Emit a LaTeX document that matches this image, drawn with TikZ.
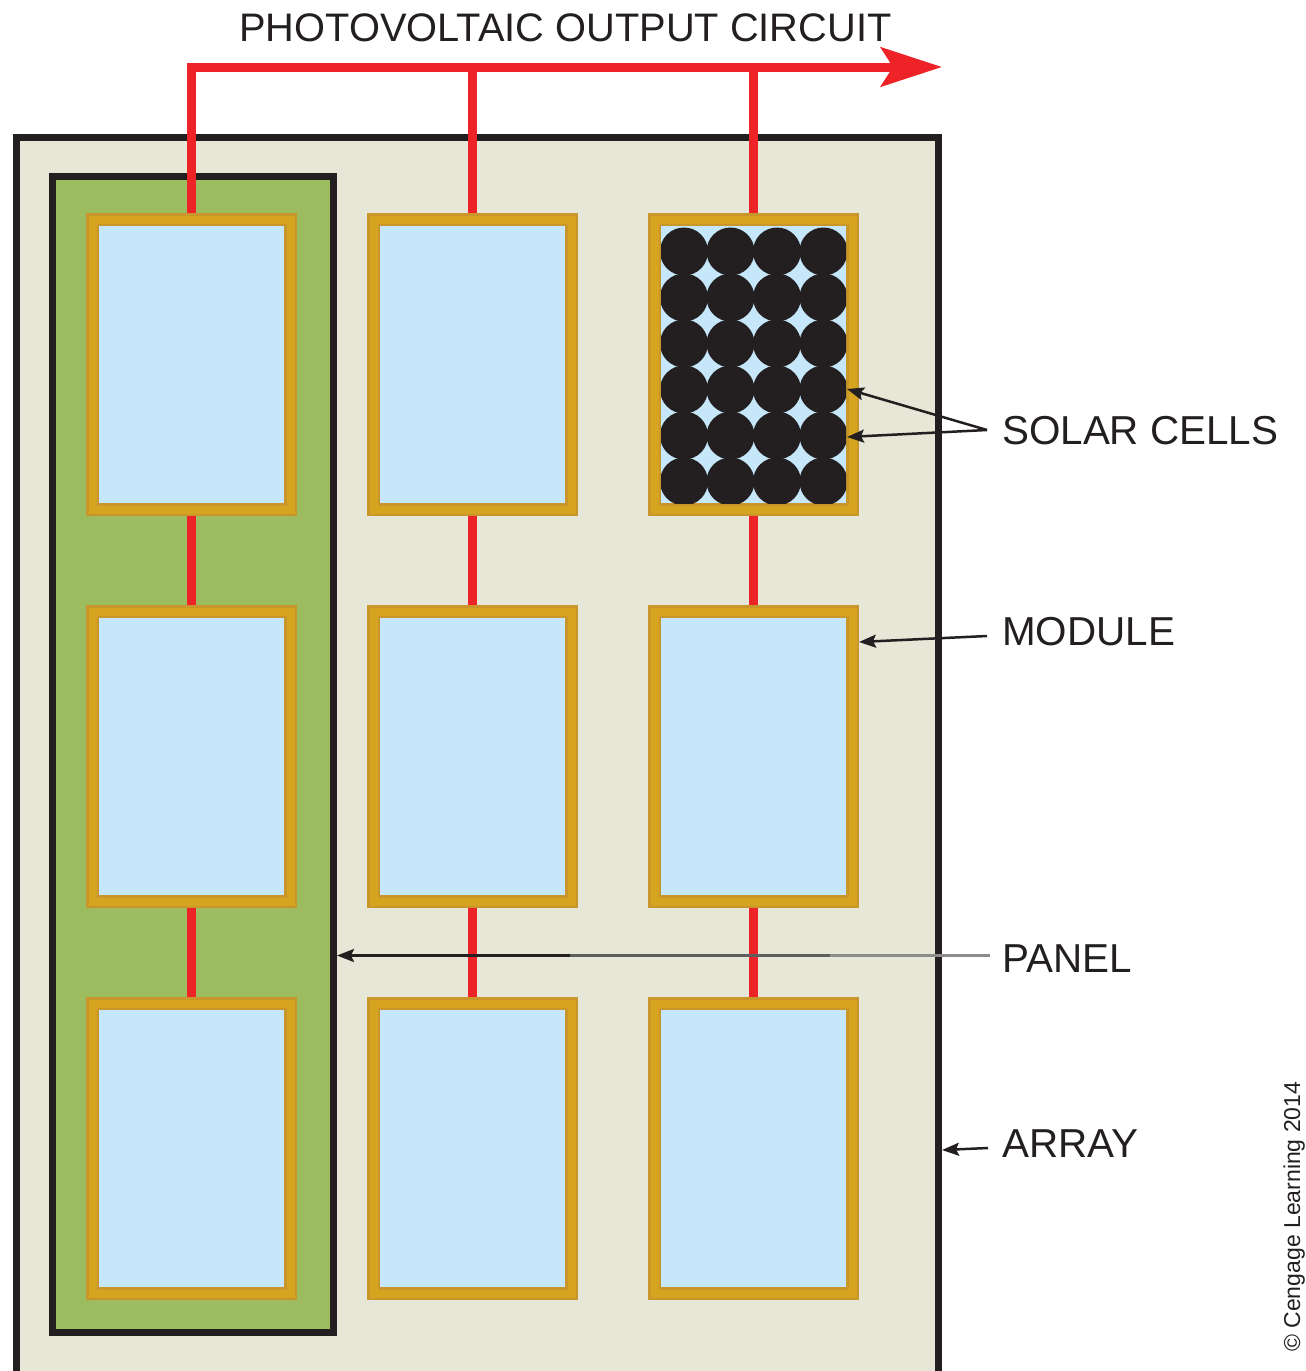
\documentclass[tikz,border=0pt]{standalone}
\usepackage{fontspec}
\setmainfont{Liberation Sans}
\usetikzlibrary{arrows.meta}
\definecolor{arraybg}{HTML}{E6E7D6}
\definecolor{panelgreen}{HTML}{9DBB5F}
\definecolor{ink}{HTML}{231F20}
\definecolor{frameorange}{HTML}{D6A41E}
\definecolor{framedark}{HTML}{C8962A}
\definecolor{cellblue}{HTML}{C6E7F9}
\definecolor{wirered}{HTML}{EE2328}
\definecolor{leadgray}{HTML}{5E5E5E}
\definecolor{leadlight}{HTML}{8C8C8C}
\begin{document}
\begin{tikzpicture}[x=1pt,y=-1pt,
  module/.style={draw=framedark, double=frameorange, line width=2.5pt,
    double distance=8pt, fill=cellblue, minimum width=198pt,
    minimum height=290pt, inner sep=0pt, outer sep=6.5pt},
  panelbox/.style={draw=ink, line width=7pt, fill=panelgreen,
    minimum width=281pt, minimum height=1155.5pt, inner sep=0pt, outer sep=3.5pt},
  wire/.style={draw=wirered, line width=9pt},
  leader/.style={draw=ink, line width=2.5pt,
    -{Stealth[length=17pt,width=13pt,inset=3pt]}},
  label/.style={anchor=base west, inner sep=0pt, text=ink,
    font=\fontsize{40.4}{40}\selectfont},
  cell/.style={fill=ink}]
\useasboundingbox (0,0) rectangle (1306,1371);
\clip (0,0) rectangle (1306,1371);
% array
\draw[ink, line width=7pt, fill=arraybg] (16.5,137) rectangle (938.5,1380);
% panel
\node[panelbox] (panel) at (193,754.25) {};
% modules
\foreach \c/\x in {1/191.5,2/472.5,3/753.5}{
  \foreach \r/\y in {1/364.5,2/756.5,3/1148.5}{
    \node[module] (m\r\c) at (\x,\y) {};
  }
}
% solar cells in top right module
\begin{scope}
  \clip (661,226) rectangle (846,503.5);
  \foreach \x in {684,730.5,777,823.5}{
    \foreach \y in {251.5,297.5,343.5,389.5,435.5,481.5}{
      \fill[cell] (\x,\y) circle (24);
    }
  }
\end{scope}
% wiring
\coordinate (tip) at (942,67);
\draw[wire, -{Stealth[length=61pt,width=39pt,inset=12pt]}] (m11.north) |- (tip);
\draw[wire] (m12.north) -- (m12.north |- tip);
\draw[wire] (m13.north) -- (m13.north |- tip);
\foreach \c in {1,2,3}{
  \draw[wire] (m1\c.south) -- (m2\c.north);
  \draw[wire] (m2\c.south) -- (m3\c.north);
}
% labels
\node[anchor=base west, inner sep=0pt, text=ink, font=\fontsize{39.8}{40}\selectfont]
  (title) at (239,41) {PHOTOVOLTAIC OUTPUT CIRCUIT};
\node[label] (lsolar) at (1002,444) {SOLAR CELLS};
\node[label] (lmodule) at (1002,645) {MODULE};
\node[label] (lpanel) at (1002,972.5) {PANEL};
\node[label] (larray) at (1002,1157) {ARRAY};
\node[rotate=90, anchor=base west, inner sep=0pt, text=ink,
  font=\fontsize{23}{23}\selectfont] (copyr) at (1300,1352) {© Cengage Learning 2014};
% leaders
\coordinate (scJ) at (987,430);
\coordinate (scT1) at (847,389);
\coordinate (scT2) at (847,437);
\draw[leader] (scJ) -- (scT1);
\draw[leader] (scJ) -- (scT2);
\coordinate (modS) at (987,636);
\coordinate (modT) at (859,642);
\draw[leader] (modS) -- (modT);
\coordinate (panS) at (990,955.5);
\coordinate (panM1) at (570,955.5);
\coordinate (panM2) at (830,955.5);
\draw[leader] (panS) -- (panel.east |- panS);
\draw[draw=leadgray, line width=3pt] (panM1) -- (panM2);
\draw[draw=leadlight, line width=3.5pt] (panM2) -- (panS);
\coordinate (arrS) at (988,1148);
\coordinate (arrT) at (942,1150);
\draw[leader] (arrS) -- (arrT);
\end{tikzpicture}
\end{document}
